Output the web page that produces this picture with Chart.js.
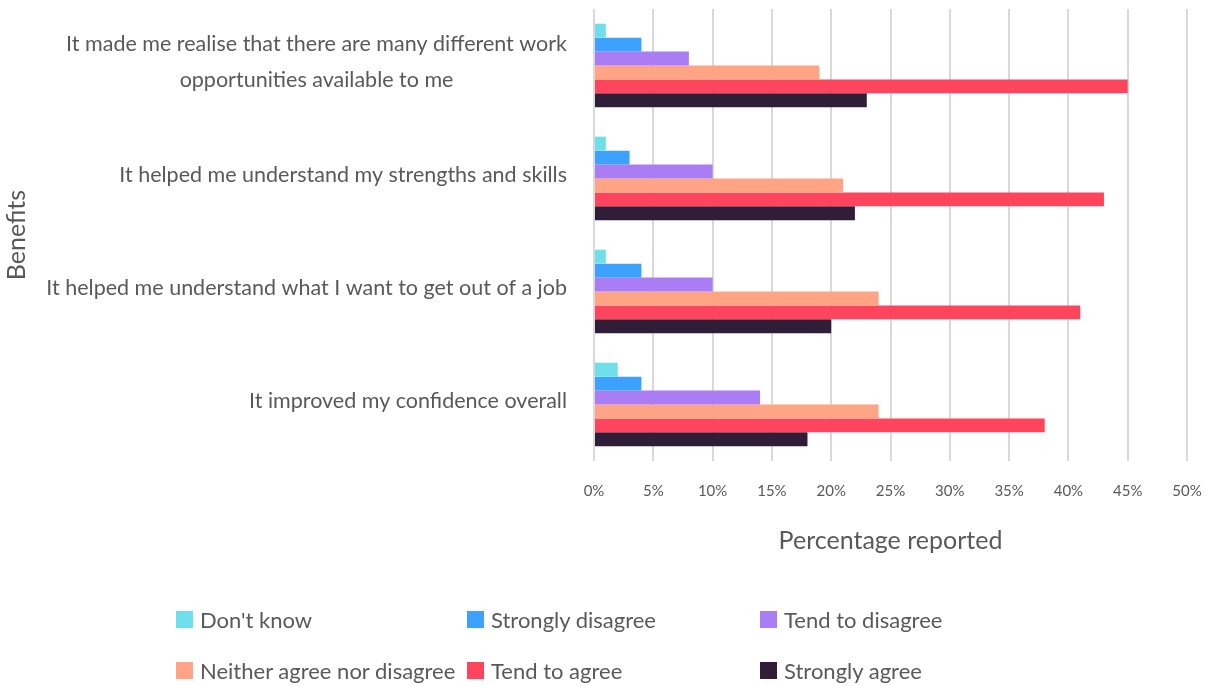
<!DOCTYPE html>
<html>
<head>
<meta charset="utf-8">
<script src="https://cdn.jsdelivr.net/npm/chart.js@4"></script>
<style>
  body { margin: 0; background: #fff; font-family: Lato, sans-serif; }
  #wrap { position: absolute; left: 0; top: 0; width: 1209px; height: 556px; }
  #legend { position: absolute; left: 0; top: 0; width: 1209px; height: 686px; pointer-events: none; }
  .item { position: absolute; display: flex; align-items: center; font-size: 22px; color: #595959; white-space: nowrap; }
  .box { width: 17px; height: 17px; margin-right: 7px; }
</style>
</head>
<body>
<div id="wrap"><canvas id="chart"></canvas></div>
<div id="legend"></div>
<script>
const categories = [
  ['It made me realise that there are many different work', 'opportunities available to me'],
  'It helped me understand my strengths and skills',
  'It helped me understand what I want to get out of a job',
  'It improved my confidence overall'
];
const seriesNames = ['Don\'t know', 'Strongly disagree', 'Tend to disagree', 'Neither agree nor disagree', 'Tend to agree', 'Strongly agree'];
const seriesColors = ['#6fdfeb', '#3da2ff', '#ab7df5', '#ffa585', '#ff455e', '#301e38'];
const dontKnow = [1, 1, 1, 2];
const stronglyDisagree = [4, 3, 4, 4];
const tendDisagree = [8, 10, 10, 14];
const neither = [19, 21, 24, 24];
const tendAgree = [45, 43, 41, 38];
const stronglyAgree = [23, 22, 20, 18];
const xTicks = [0, 5, 10, 15, 20, 25, 30, 35, 40, 45, 50];

const allSeries = [dontKnow, stronglyDisagree, tendDisagree, neither, tendAgree, stronglyAgree];
const textColor = '#595959';

// draw category labels: right aligned block, lines centred inside it
const catLabels = {
  id: 'catLabels',
  afterDraw(chart) {
    const ctx = chart.ctx;
    const y = chart.scales.y;
    ctx.save();
    ctx.font = '21.5px Lato, sans-serif';
    ctx.fillStyle = textColor;
    ctx.textAlign = 'center';
    ctx.textBaseline = 'middle';
    categories.forEach((c, i) => {
      const lines = Array.isArray(c) ? c : [c];
      const w = Math.max(...lines.map(l => ctx.measureText(l).width));
      const cx = 567 - w / 2;
      const cy = y.getPixelForTick(i) - 3;
      const start = cy - (lines.length - 1) * 18;
      lines.forEach((l, j) => ctx.fillText(l, cx, start + j * 36));
    });
    ctx.restore();
  }
};

new Chart(document.getElementById('chart'), {
  type: 'bar',
  data: {
    labels: categories,
    datasets: allSeries.map((d, i) => ({
      label: seriesNames[i],
      data: d,
      backgroundColor: seriesColors[i],
      borderWidth: 0,
      categoryPercentage: 0.74,
      barPercentage: 1
    }))
  },
  options: {
    indexAxis: 'y',
    responsive: true,
    maintainAspectRatio: false,
    animation: false,
    layout: { padding: { top: 9, right: 22, left: 0, bottom: 0 } },
    scales: {
      x: {
        min: 0,
        max: 50,
        afterBuildTicks: scale => { scale.ticks = xTicks.map(v => ({ value: v })); },
        afterFit: scale => {
          scale.height = 95;
          scale.paddingLeft = 0;
          scale.paddingRight = 0;
        },
        grid: { color: '#d9d9d9', lineWidth: 2, drawTicks: false },
        border: { display: false },
        ticks: {
          padding: 21,
          maxRotation: 0,
          color: textColor,
          font: { family: 'Lato', size: 15 },
          callback: v => v + '%'
        },
        title: {
          display: true,
          text: 'Percentage reported',
          color: textColor,
          font: { family: 'Lato', size: 25 },
          padding: { top: 12, bottom: 0 }
        }
      },
      y: {
        grid: { display: false },
        border: { display: false },
        ticks: { display: false },
        afterFit: scale => { scale.width = 594; },
        title: {
          display: true,
          text: 'Benefits',
          color: textColor,
          font: { family: 'Lato', size: 25 },
          padding: { top: 2, bottom: 0 }
        }
      }
    },
    plugins: {
      legend: { display: false },
      tooltip: { enabled: false }
    }
  },
  plugins: [catLabels]
});

// legend in a 3 x 2 grid
const legendPos = [[176, 620], [467, 620], [760, 620], [176, 671], [467, 671], [760, 671]];
const legend = document.getElementById('legend');
seriesNames.forEach((name, i) => {
  const it = document.createElement('div');
  it.className = 'item';
  it.style.left = legendPos[i][0] + 'px';
  it.style.top = (legendPos[i][1] - 14) + 'px';
  it.innerHTML = '<span class="box" style="background:' + seriesColors[i] + '"></span><span>' + name + '</span>';
  legend.appendChild(it);
});
</script>
</body>
</html>
